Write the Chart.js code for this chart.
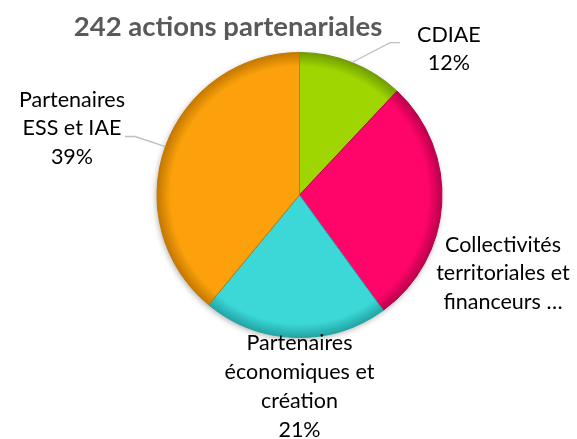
<!DOCTYPE html>
<html>
<head>
<meta charset="utf-8">
<script src="https://cdn.jsdelivr.net/npm/chart.js@4"></script>
<style>
  html, body { margin: 0; padding: 0; background: #fff; }
  canvas { display: block; }
</style>
</head>
<body>
<canvas id="chart" width="577" height="439"></canvas>
<script>
// Data
const chartTitle = '242 actions partenariales';
const categories = ['CDIAE', 'Collectivités territoriales et financeurs …', 'Partenaires économiques et création', 'Partenaires ESS et IAE'];
const labelLines = [['CDIAE'], ['Collectivités', 'territoriales et', 'financeurs …'], ['Partenaires', 'économiques et', 'création'], ['Partenaires', 'ESS et IAE']];
const shares = [12, 28, 21, 39];

const colors = ['#9fd500', '#ff0569', '#3cd8d8', '#fca10b'];
const rimColors = ['#6f9a00', '#b8004a', '#22a3a3', '#c27700'];

// label placement, in pie radii from the centre
const labelPos = [[1.045, -1.007], [1.423, 0.563], [0, 1.353], [-1.591, -0.451]];
const leaders = [[[0.633, -1.066], [0.703, -1.066]], null, null, [[-1.150, -0.409], [-1.220, -0.409]]];

function pieGeom(chart) {
  const a = chart.chartArea;
  return { cx: (a.left + a.right) / 2, cy: (a.top + a.bottom) / 2, r: Math.min(a.right - a.left, a.bottom - a.top) / 2 };
}

const pieLabels = {
  id: 'pieLabels',
  beforeDatasetsDraw(chart) {
    const { ctx } = chart;
    const g = pieGeom(chart);
    ctx.save();
    ctx.shadowColor = 'rgba(0,0,0,0.35)';
    ctx.shadowBlur = 6;
    ctx.shadowOffsetX = -1;
    ctx.shadowOffsetY = 2;
    ctx.fillStyle = '#fff';
    ctx.beginPath();
    ctx.arc(g.cx, g.cy, g.r - 1, 0, Math.PI * 2);
    ctx.fill();
    ctx.restore();
  },
  afterDatasetsDraw(chart) {
    const { ctx } = chart;
    const g = pieGeom(chart);
    const arcs = chart.getDatasetMeta(0).data;
    ctx.save();

    // leader lines
    ctx.strokeStyle = '#bfbfbf';
    ctx.lineWidth = 1.3;
    arcs.forEach((arc, i) => {
      const l = leaders[i];
      if (!l) return;
      const mid = (arc.startAngle + arc.endAngle) / 2;
      ctx.beginPath();
      ctx.moveTo(arc.x + Math.cos(mid) * arc.outerRadius, arc.y + Math.sin(mid) * arc.outerRadius);
      l.forEach(p => ctx.lineTo(g.cx + p[0] * g.r, g.cy + p[1] * g.r));
      ctx.stroke();
    });

    // data labels
    ctx.fillStyle = '#000';
    ctx.font = '21.5px Lato, "Noto Sans", sans-serif';
    ctx.textAlign = 'center';
    ctx.textBaseline = 'middle';
    const lh = 28.8;
    labelLines.forEach((lines, i) => {
      const txt = lines.slice();
      if (!txt[txt.length - 1].endsWith('…')) txt.push(shares[i] + '%');
      const x = g.cx + labelPos[i][0] * g.r;
      const y0 = g.cy + labelPos[i][1] * g.r - 2;
      txt.forEach((t, k) => ctx.fillText(t, x, y0 + (k - (txt.length - 1) / 2) * lh));
    });

    // title
    ctx.fillStyle = '#595959';
    ctx.font = 'bold 27.5px Lato, "Noto Sans", sans-serif';
    ctx.textBaseline = 'alphabetic';
    ctx.fillText(chartTitle, 228, 36);
    ctx.restore();
  }
};

new Chart(document.getElementById('chart'), {
  type: 'pie',
  data: {
    labels: categories,
    datasets: [{
      data: shares,
      backgroundColor(c) {
        const chart = c.chart;
        if (!chart.chartArea) return colors[c.dataIndex];
        const g = pieGeom(chart);
        const grad = chart.ctx.createRadialGradient(g.cx, g.cy, 0, g.cx, g.cy, g.r);
        grad.addColorStop(0, colors[c.dataIndex]);
        grad.addColorStop(0.9, colors[c.dataIndex]);
        grad.addColorStop(1, rimColors[c.dataIndex]);
        return grad;
      },
      borderColor: rimColors,
      borderWidth: 1
    }]
  },
  options: {
    responsive: false,
    animation: false,
    devicePixelRatio: 1,
    layout: { padding: { left: 156, right: 134, top: 52, bottom: 101 } },
    plugins: {
      legend: { display: false },
      tooltip: { enabled: false }
    }
  },
  plugins: [pieLabels]
});
</script>
</body>
</html>
